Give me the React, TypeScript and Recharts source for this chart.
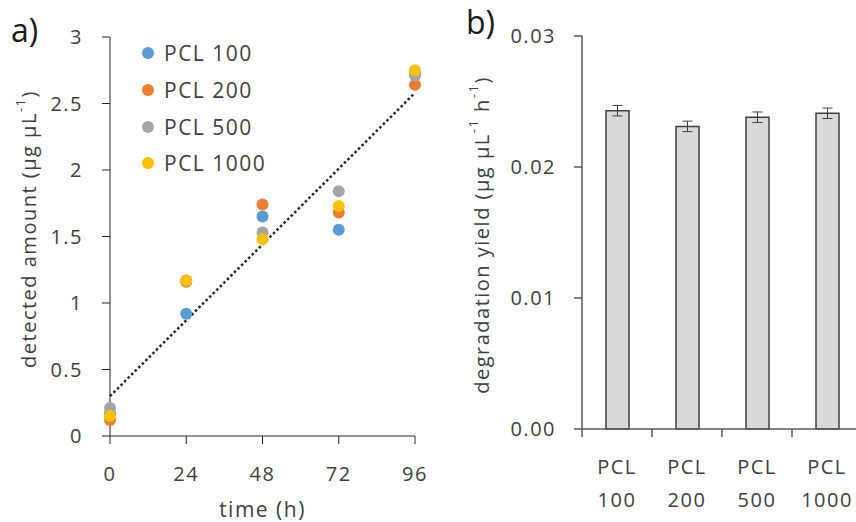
import React from "react";
import {
  ScatterChart,
  Scatter,
  BarChart,
  Bar,
  ErrorBar,
  XAxis,
  YAxis,
  ReferenceLine,
  Legend,
  Label,
} from "recharts";

// panel a) detected amount over time
const times = [0, 24, 48, 72, 96];
const pcl100 = [0.17, 0.92, 1.65, 1.55, 2.73];
const pcl200 = [0.12, 1.16, 1.74, 1.68, 2.64];
const pcl500 = [0.21, 1.17, 1.53, 1.84, 2.71];
const pcl1000 = [0.15, 1.17, 1.48, 1.73, 2.75];
const trendTimes = [0, 96];
const trendValues = [0.3, 2.58];
const amountTicks = [0, 0.5, 1, 1.5, 2, 2.5, 3];

// panel b) degradation yield
const yieldCategories = ["PCL 100", "PCL 200", "PCL 500", "PCL 1000"];
const yieldValues = [0.0243, 0.0231, 0.0238, 0.0241];
const yieldErrors = [0.0004, 0.0004, 0.0004, 0.0004];
const yieldTicks = [0, 0.01, 0.02, 0.03];

const series = [
  { name: "PCL 100", values: pcl100, color: "#5B9BD5" },
  { name: "PCL 200", values: pcl200, color: "#ED7D31" },
  { name: "PCL 500", values: pcl500, color: "#A5A5A5" },
  { name: "PCL 1000", values: pcl1000, color: "#FFC000" },
];

const TEXT = "#404040";
const AXIS_B = "#595959";
const FONT = "'Open Sans', sans-serif";

const AmountLegend = () => (
  <div style={{ display: "flex", flexDirection: "column" }}>
    {series.map((s) => (
      <div
        key={s.name}
        style={{ display: "flex", alignItems: "center", height: 36.7 }}
      >
        <svg width={12} height={12}>
          <circle cx={6} cy={6} r={6} fill={s.color} />
        </svg>
        <span style={{ marginLeft: 10, fontSize: 21, color: TEXT }}>
          {s.name}
        </span>
      </div>
    ))}
  </div>
);

// two-line category label plus a tick mark on the left edge of the band
const CategoryTick = (props: any) => {
  const { x, y, payload } = props;
  const half = payload.offset ?? 35;
  const [top, bottom] = String(payload.value).split(" ");
  return (
    <g>
      <line
        x1={x - half}
        x2={x - half}
        y1={y - 8}
        y2={y}
        stroke={AXIS_B}
        strokeWidth={1.5}
      />
      <text x={x} y={y} textAnchor="middle" fill={TEXT} fontSize={20}>
        <tspan x={x} dy={37}>
          {top}
        </tspan>
        <tspan x={x} dy={33}>
          {bottom}
        </tspan>
      </text>
    </g>
  );
};

const panelTag = {
  position: "absolute" as const,
  fontSize: 32,
  lineHeight: "32px",
  letterSpacing: 0,
  color: "#1a1a1a",
};

export default function App() {
  const trendSegment = trendTimes.map((t, i) => ({ x: t, y: trendValues[i] }));
  const yieldData = yieldCategories.map((name, i) => ({
    name,
    value: yieldValues[i],
    err: yieldErrors[i],
  }));

  return (
    <div
      style={{
        position: "absolute",
        left: 0,
        top: 0,
        width: 856,
        height: 522,
        overflow: "hidden",
        background: "#fff",
        fontFamily: FONT,
        letterSpacing: "1.5px",
        color: TEXT,
      }}
    >
      <div style={{ position: "absolute", left: 0, top: 0 }}>
        <ScatterChart
          width={440}
          height={522}
          margin={{ top: 37, right: 25, bottom: 46, left: 0 }}
        >
          <XAxis
            type="number"
            dataKey="t"
            domain={[0, 96]}
            ticks={times}
            height={40}
            tickSize={8}
            tickMargin={23}
            stroke="#262626"
            tick={{ fill: TEXT, fontSize: 20 }}
          >
            <Label
              content={() => (
                <text
                  x={262.5}
                  y={509}
                  textAnchor="middle"
                  dominantBaseline="central"
                  fill={TEXT}
                  fontSize={21}
                >
                  time (h)
                </text>
              )}
            />
          </XAxis>
          <YAxis
            type="number"
            dataKey="v"
            domain={[0, 3]}
            ticks={amountTicks}
            width={110}
            tickSize={8}
            tickMargin={19}
            stroke="#262626"
            tick={{ fill: TEXT, fontSize: 20 }}
          >
            <Label
              content={() => (
                <text
                  transform="translate(28,229) rotate(-90)"
                  textAnchor="middle"
                  dominantBaseline="central"
                  fill={TEXT}
                  fontSize={20}
                >
                  detected amount (µg µL
                  <tspan dy={-8} fontSize={13}>
                    -1
                  </tspan>
                  <tspan dy={8}>)</tspan>
                </text>
              )}
            />
          </YAxis>
          <ReferenceLine
            segment={trendSegment}
            stroke="#262626"
            strokeWidth={2.5}
            strokeDasharray="2.5 2.5"
          />
          {series.map((s) => (
            <Scatter
              key={s.name}
              name={s.name}
              data={times.map((t, i) => ({ t, v: s.values[i] }))}
              fill={s.color}
              isAnimationActive={false}
              shape={(p: any) => (
                <circle cx={p.cx} cy={p.cy} r={6} fill={s.color} />
              )}
            />
          ))}
          <Legend
            layout="vertical"
            align="center"
            verticalAlign="middle"
            content={() => <AmountLegend />}
            wrapperStyle={{ left: 142, top: 35, width: "auto" }}
          />
        </ScatterChart>
      </div>

      <div style={{ position: "absolute", left: 440, top: 0 }}>
        <BarChart
          width={430}
          height={522}
          data={yieldData}
          margin={{ top: 36, right: 8, bottom: 13, left: 0 }}
        >
          <XAxis
            dataKey="name"
            height={80}
            interval={0}
            tickLine={false}
            tickSize={8}
            tickMargin={0}
            stroke={AXIS_B}
            strokeWidth={1.5}
            tick={<CategoryTick />}
          />
          <YAxis
            domain={[0, 0.03]}
            ticks={yieldTicks}
            width={142}
            tickSize={8}
            tickMargin={18}
            stroke={AXIS_B}
            strokeWidth={1.5}
            tickFormatter={(v: number) => v.toFixed(2)}
            tick={{ fill: TEXT, fontSize: 20 }}
          >
            <Label
              content={() => (
                <text
                  transform="translate(41,235) rotate(-90)"
                  textAnchor="middle"
                  dominantBaseline="central"
                  fill={TEXT}
                  fontSize={20}
                >
                  degradation yield (µg µL
                  <tspan dy={-8} fontSize={13}>
                    -1
                  </tspan>
                  <tspan dy={8}> h</tspan>
                  <tspan dy={-8} fontSize={13}>
                    -1
                  </tspan>
                  <tspan dy={8}>)</tspan>
                </text>
              )}
            />
          </YAxis>
          <Bar
            dataKey="value"
            barSize={23}
            fill="#D9D9D9"
            stroke="#404040"
            strokeWidth={1.5}
            isAnimationActive={false}
          >
            <ErrorBar
              dataKey="err"
              direction="y"
              width={5}
              stroke="#404040"
              strokeWidth={1}
              isAnimationActive={false}
            />
          </Bar>
        </BarChart>
      </div>

      <div style={{ ...panelTag, left: 11, top: 14 }}>a)</div>
      <div style={{ ...panelTag, left: 466, top: 6 }}>b)</div>
    </div>
  );
}
